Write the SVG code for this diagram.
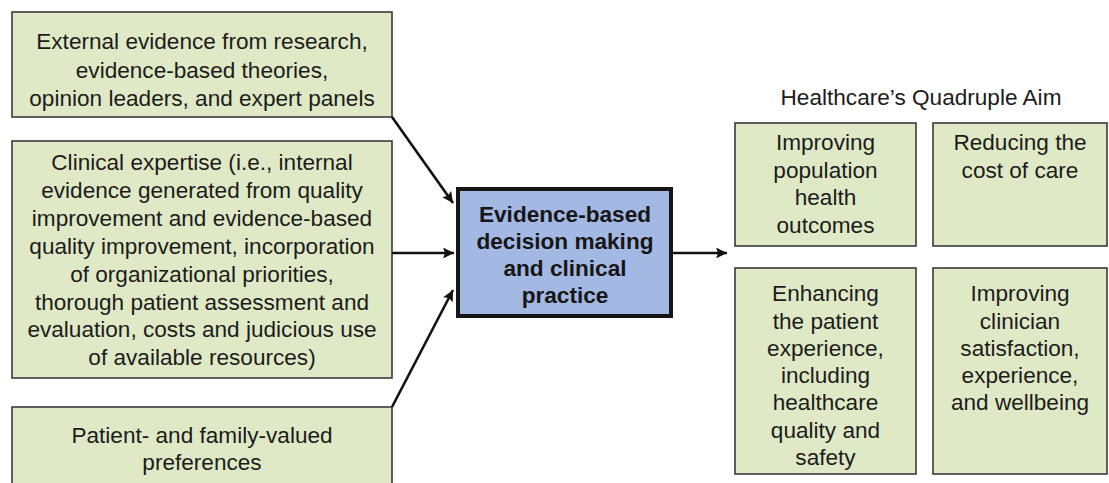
<svg xmlns="http://www.w3.org/2000/svg" width="1109" height="483" viewBox="0 0 1109 483">
  <style>
    .box { fill: #e0e9c6; stroke: #3a3a3a; stroke-width: 1.6; }
    .core { fill: #a3b8e2; stroke: #161616; stroke-width: 4; }
    .t { font-family: "Liberation Sans", Arial, Helvetica, sans-serif; font-size: 22.6px; fill: #1c1c1c; text-anchor: middle; }
    .tb { font-family: "Liberation Sans", Arial, Helvetica, sans-serif; font-size: 22.6px; font-weight: bold; fill: #161616; text-anchor: middle; }
    .title { font-family: "Liberation Sans", Arial, Helvetica, sans-serif; font-size: 22.6px; fill: #1c1c1c; text-anchor: middle; }
    .link { stroke: #111; stroke-width: 2.6; fill: none; marker-end: url(#arrow); }
  </style>
  <defs>
    <!-- long, slightly notched arrowhead -->
    <marker id="arrow" viewBox="0 0 10 10" refX="10" refY="5" markerWidth="7.8" markerHeight="4.2" markerUnits="strokeWidth" orient="auto">
      <path d="M0,0 L10,5 L0,10 L1.8,5 z" fill="#111"/>
    </marker>
  </defs>
  <rect width="1109" height="483" fill="#ffffff"/>

  <!-- inputs -->
  <g id="external-evidence">
    <rect class="box" x="12" y="12" width="380" height="105"/>
    <text class="t" x="202" y="49">External evidence from research,</text>
    <text class="t" x="202" y="77.5">evidence-based theories,</text>
    <text class="t" x="202" y="106">opinion leaders, and expert panels</text>
  </g>

  <g id="clinical-expertise">
    <rect class="box" x="12" y="141" width="380" height="237"/>
    <text class="t" x="202" y="170">Clinical expertise (i.e., internal</text>
    <text class="t" x="202" y="198">evidence generated from quality</text>
    <text class="t" x="202" y="226">improvement and evidence-based</text>
    <text class="t" x="202" y="254">quality improvement, incorporation</text>
    <text class="t" x="202" y="282">of organizational priorities,</text>
    <text class="t" x="202" y="310">thorough patient assessment and</text>
    <text class="t" x="202" y="337">evaluation, costs and judicious use</text>
    <text class="t" x="202" y="365">of available resources)</text>
  </g>

  <g id="patient-preferences">
    <rect class="box" x="12" y="407" width="380" height="90"/>
    <text class="t" x="202" y="443">Patient- and family-valued</text>
    <text class="t" x="202" y="470">preferences</text>
  </g>

  <!-- central node -->
  <g id="ebp-decision">
    <rect class="core" x="458" y="189" width="213" height="127"/>
    <text class="tb" x="565" y="222">Evidence-based</text>
    <text class="tb" x="565" y="249">decision making</text>
    <text class="tb" x="565" y="276">and clinical</text>
    <text class="tb" x="565" y="303">practice</text>
  </g>

  <!-- outcomes -->
  <g id="quadruple-aim-title">
    <text class="title" x="921" y="105">Healthcare’s Quadruple Aim</text>
  </g>

  <g id="population-health">
    <rect class="box" x="735" y="123" width="181" height="123"/>
    <text class="t" x="825.5" y="150">Improving</text>
    <text class="t" x="825.5" y="177.5">population</text>
    <text class="t" x="825.5" y="205">health</text>
    <text class="t" x="825.5" y="232.5">outcomes</text>
  </g>

  <g id="cost-of-care">
    <rect class="box" x="933" y="123" width="174" height="123"/>
    <text class="t" x="1020" y="150">Reducing the</text>
    <text class="t" x="1020" y="177.5">cost of care</text>
  </g>

  <g id="patient-experience">
    <rect class="box" x="735" y="268" width="181" height="206"/>
    <text class="t" x="825.5" y="301">Enhancing</text>
    <text class="t" x="825.5" y="328.5">the patient</text>
    <text class="t" x="825.5" y="356">experience,</text>
    <text class="t" x="825.5" y="383">including</text>
    <text class="t" x="825.5" y="410">healthcare</text>
    <text class="t" x="825.5" y="437.5">quality and</text>
    <text class="t" x="825.5" y="465">safety</text>
  </g>

  <g id="clinician-wellbeing">
    <rect class="box" x="933" y="268" width="174" height="206"/>
    <text class="t" x="1020" y="301">Improving</text>
    <text class="t" x="1020" y="328.5">clinician</text>
    <text class="t" x="1020" y="356">satisfaction,</text>
    <text class="t" x="1020" y="383">experience,</text>
    <text class="t" x="1020" y="410">and wellbeing</text>
  </g>

  <!-- connectors -->
  <g id="connectors">
    <line class="link" x1="392" y1="117" x2="453" y2="203"/>
    <line class="link" x1="392" y1="253" x2="454" y2="253"/>
    <line class="link" x1="392" y1="407" x2="453" y2="290"/>
    <line class="link" x1="673" y1="253" x2="727" y2="253"/>
  </g>
</svg>
